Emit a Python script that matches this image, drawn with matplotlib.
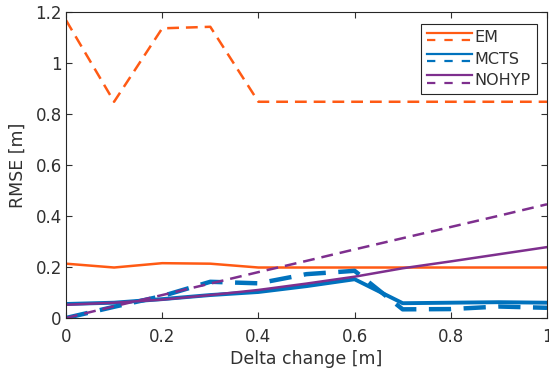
import matplotlib
matplotlib.use("Agg")
import matplotlib.pyplot as plt
from matplotlib.lines import Line2D
from matplotlib.legend_handler import HandlerBase

plt.rcParams['font.family'] = ['DejaVu Sans']
plt.rcParams['lines.scale_dashes'] = False

x = [0, 0.1, 0.2, 0.3, 0.4, 0.5, 0.6, 0.7, 0.8, 0.9, 1.0]

em_solid = [0.213, 0.198, 0.215, 0.213, 0.198, 0.198, 0.198, 0.198, 0.198, 0.198, 0.198]
em_dashed = [1.168, 0.848, 1.136, 1.142, 0.848, 0.848, 0.848, 0.848, 0.848, 0.848, 0.848]
mcts_solid = [0.055, 0.060, 0.074, 0.090, 0.102, 0.125, 0.152, 0.058, 0.060, 0.062, 0.060]
mcts_dashed = [0.0, 0.044, 0.086, 0.142, 0.136, 0.172, 0.185, 0.034, 0.035, 0.045, 0.040]
nohyp_solid = [0.052, 0.060, 0.072, 0.090, 0.110, 0.135, 0.162, 0.195, 0.222, 0.250, 0.278]
nohyp_dashed = [0.0, 0.046, 0.090, 0.135, 0.180, 0.224, 0.269, 0.313, 0.357, 0.401, 0.446]

labels = ['EM', 'MCTS', 'NOHYP']
xticks = [0, 0.2, 0.4, 0.6, 0.8, 1.0]
xticklabels = ['0', '0.2', '0.4', '0.6', '0.8', '1']
yticks = [0, 0.2, 0.4, 0.6, 0.8, 1.0, 1.2]
yticklabels = ['0', '0.2', '0.4', '0.6', '0.8', '1', '1.2']

c_em = '#FF5A14'
c_mcts = '#0072BD'
c_nohyp = '#7E2F8E'
txt = '#303030'

fig = plt.figure(figsize=(5.49, 3.79), dpi=100)
ax = fig.add_axes([66/549, 61/379, 481/549, 306/379])

l1, = ax.plot(x, em_solid, color=c_em, lw=1.8)
l2, = ax.plot(x, em_dashed, color=c_em, lw=1.8, dashes=(8.5, 5))
l3, = ax.plot(x, mcts_solid, color=c_mcts, lw=2.8)
l4, = ax.plot(x, mcts_dashed, color=c_mcts, lw=3.2, dashes=(16, 9))
l5, = ax.plot(x, nohyp_solid, color=c_nohyp, lw=1.8)
l6, = ax.plot(x, nohyp_dashed, color=c_nohyp, lw=1.8, dashes=(8.5, 5))

ax.set_xlim(0, 1)
ax.set_ylim(0, 1.2)
ax.set_xticks(xticks)
ax.set_xticklabels(xticklabels)
ax.set_yticks(yticks)
ax.set_yticklabels(yticklabels)
ax.tick_params(direction='in', length=4, width=0.8, colors=txt, labelsize=12,
               top=True, right=True)
ax.tick_params(axis='x', pad=7)
ax.tick_params(axis='y', pad=3)
for s in ax.spines.values():
    s.set_color('#262626')
    s.set_linewidth(0.8)

ax.set_xlabel('Delta change [m]', fontsize=12.5, color=txt, labelpad=3)
ax.set_ylabel('RMSE [m]', fontsize=12.5, color=txt, labelpad=6)


class PairHandler(HandlerBase):
    def create_artists(self, legend, orig_handle, xdescent, ydescent,
                       width, height, fontsize, trans):
        color = orig_handle[0]
        yc = (height - ydescent) / 2.0
        xd = [-xdescent, -xdescent + width]
        a = Line2D(xd, [yc + 3.0, yc + 3.0], color=color, lw=1.6)
        b = Line2D(xd, [yc - 2.2, yc - 2.2], color=color, lw=1.6, dashes=(6, 6.5))
        a.set_transform(trans)
        b.set_transform(trans)
        return [a, b]


handles = [(c_em,), (c_mcts,), (c_nohyp,)]
leg = ax.legend(handles, labels, handler_map={tuple: PairHandler()},
                loc='upper right', bbox_to_anchor=(0.979, 0.961),
                fontsize=11.5, frameon=True, fancybox=False, framealpha=1,
                edgecolor='#262626', handlelength=2.8, handletextpad=0.15,
                labelspacing=0.4, borderpad=0.4, borderaxespad=0)
leg.get_frame().set_linewidth(0.8)
for t in leg.get_texts():
    t.set_color(txt)

fig.savefig('out.png', dpi=100)
